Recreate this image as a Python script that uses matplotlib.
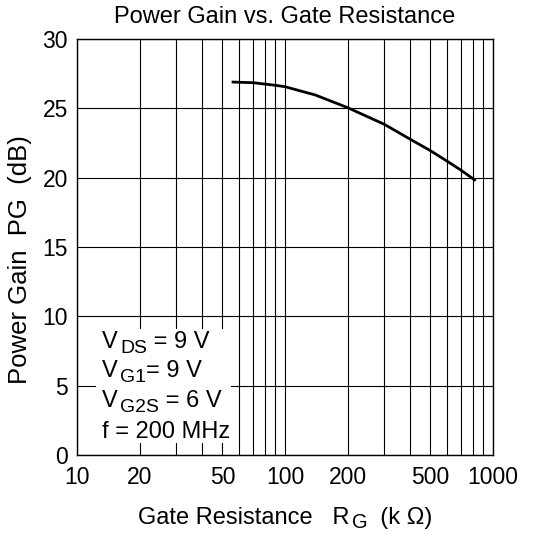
import numpy as np
import matplotlib
matplotlib.use('Agg')
import matplotlib.pyplot as plt
from matplotlib.patches import Rectangle
from matplotlib.ticker import FixedLocator, NullFormatter

plt.rcParams['font.family'] = ['Liberation Sans', 'DejaVu Sans']

# curve (R_G in kOhm, PG in dB)
rg = [55.4, 60, 70, 80, 90, 100, 140, 200, 300, 400, 500, 600, 700, 826]
pg = [26.9, 26.88, 26.85, 26.75, 26.66, 26.56, 25.96, 25.05, 23.85, 22.77,
      21.95, 21.2, 20.55, 19.78]

xticks = [10, 20, 50, 100, 200, 500, 1000]
yticks = [0, 5, 10, 15, 20, 25, 30]
minor_x = [m * d for d in (10, 100) for m in range(2, 10)]

conditions = [("V", "DS", " = 9 V"),
              ("V", "G1", "= 9 V"),
              ("V", "G2S", " = 6 V"),
              ("f = 200 MHz", "", "")]

fs = 17
tfs = 16.5

fig = plt.figure(figsize=(5.40, 5.35), dpi=100)
ax = fig.add_axes([77 / 540, 1 - 455 / 535, 416 / 540, 416 / 535])

ax.plot(rg, pg, color='black', lw=2.0, solid_capstyle='butt', zorder=3)

ax.set_xscale('log')
ax.set_xlim(10, 1000)
ax.set_ylim(0, 30)
ax.xaxis.set_major_locator(FixedLocator(xticks))
ax.xaxis.set_minor_locator(FixedLocator(minor_x))
ax.xaxis.set_minor_formatter(NullFormatter())
ax.set_xticklabels([str(t) for t in xticks])
ax.set_yticks(yticks)
ax.tick_params(which='both', length=0, labelsize=tfs)
ax.tick_params(axis='x', pad=8)
ax.tick_params(axis='y', pad=6.5)

ax.grid(True, which='both', color='black', lw=0.8)
ax.set_axisbelow(True)
for s in ax.spines.values():
    s.set_linewidth(1.0)

ax.set_title("Power Gain vs. Gate Resistance", fontsize=fs, pad=11.3)
ax.set_ylabel("Power Gain  PG  (dB)", fontsize=18.5)
ax.yaxis.set_label_coords(-45 / 416, 0.47)

# white box behind the conditions
ax.add_patch(Rectangle((19 / 416, 12 / 416), 135 / 416, 114 / 416,
                       transform=ax.transAxes, facecolor='white',
                       edgecolor='none', zorder=2))


def sub_text(x, y, main, sub, rest, size, ssize, dx=2, dy=0):
    t1 = fig.text(x, y, main, fontsize=size, va='baseline', zorder=4)
    if not sub:
        return
    t2 = ax.annotate(sub, xy=(1, 0), xycoords=t1, xytext=(dx, dy),
                     textcoords='offset pixels', fontsize=ssize,
                     va='baseline', zorder=4, annotation_clip=False)
    ax.annotate(rest, xy=(1, 0), xycoords=(t2, t1), va='bottom',
                fontsize=size, zorder=4, annotation_clip=False)


base = [347.7, 376.7, 406.7, 437.7]
for (m, s, r), yb in zip(conditions, base):
    sub_text(101.5 / 540, 1 - yb / 535, m, s, r, fs, fs * 0.82, dx=3)

# x label with subscript
sub_text(138.3 / 540, 1 - 524 / 535, "Gate Resistance   R", "G", "  (k \u03a9)",
         fs, fs * 0.85, dx=2, dy=1)

fig.savefig("out.png", dpi=100)
